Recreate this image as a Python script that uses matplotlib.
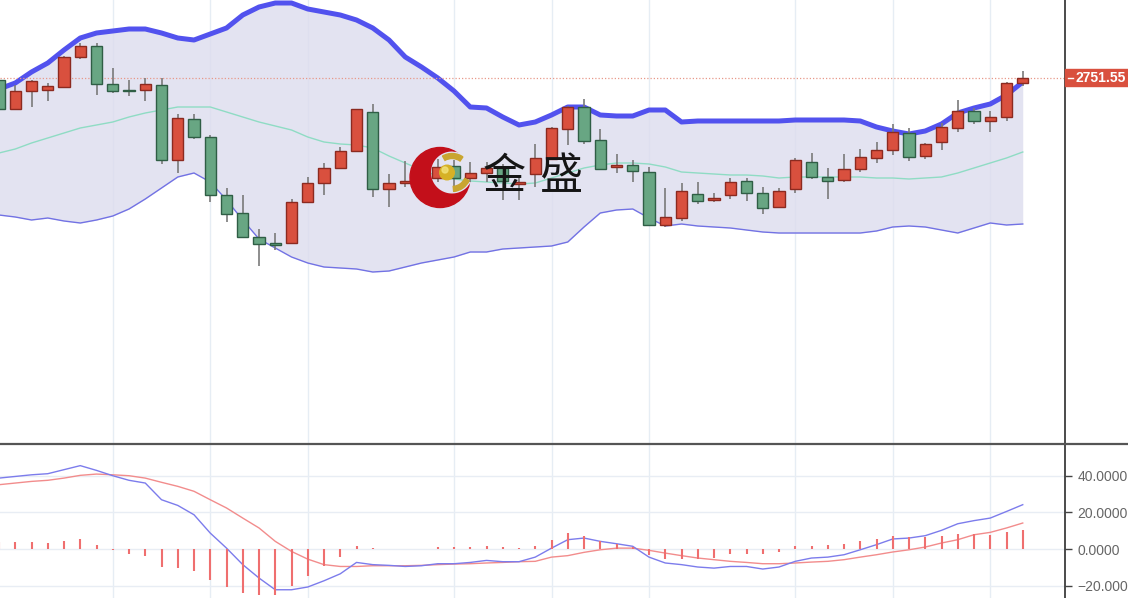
import numpy as np
import matplotlib
matplotlib.use('Agg')
from matplotlib import pyplot as plt
from matplotlib import transforms
from matplotlib.lines import Line2D
from matplotlib.path import Path
from matplotlib.patches import Circle, Rectangle, Wedge

W, H = 1128, 598

# price bars
opens = [2750.3, 2735.8, 2744.8, 2745.3, 2746.8, 2761.8, 2767.3, 2748.3, 2745.3, 2745.3,
         2747.8, 2710.3, 2730.8, 2721.8, 2692.8, 2683.8, 2671.8, 2668.8, 2668.8, 2689.3,
         2698.8, 2706.3, 2714.8, 2734.3, 2695.8, 2698.8, 2699.3, 2701.3, 2707.3, 2701.3,
         2703.8, 2706.3, 2698.3, 2703.3, 2710.8, 2725.8, 2736.8, 2720.3, 2706.8, 2707.8,
         2704.3, 2677.8, 2681.3, 2693.3, 2690.3, 2692.8, 2699.8, 2693.8, 2686.8, 2695.8,
         2709.3, 2701.8, 2700.3, 2705.8, 2711.3, 2715.3, 2723.8, 2712.3, 2719.3, 2726.3,
         2734.8, 2729.8, 2731.8, 2748.8]
highs = [2751.3, 2747.8, 2750.3, 2748.8, 2762.3, 2768.8, 2768.8, 2756.3, 2750.3, 2751.3,
         2751.3, 2733.3, 2733.3, 2722.8, 2696.3, 2692.8, 2675.8, 2673.8, 2690.8, 2701.8,
         2708.8, 2716.8, 2735.8, 2738.3, 2703.3, 2709.8, 2705.3, 2710.8, 2710.3, 2709.3,
         2709.3, 2708.3, 2701.3, 2718.3, 2726.8, 2737.3, 2740.8, 2725.8, 2713.3, 2710.3,
         2706.8, 2696.3, 2698.8, 2699.3, 2693.8, 2701.3, 2701.3, 2696.8, 2696.3, 2711.3,
         2713.8, 2706.3, 2713.3, 2715.8, 2719.3, 2728.3, 2726.3, 2718.8, 2728.8, 2740.3,
         2736.3, 2734.8, 2749.3, 2754.8]
lows = [2735.3, 2735.3, 2736.8, 2739.8, 2746.3, 2760.8, 2742.8, 2743.8, 2742.3, 2739.8,
        2708.3, 2703.8, 2720.8, 2689.3, 2679.3, 2671.3, 2657.3, 2665.3, 2668.3, 2688.8,
        2692.8, 2705.8, 2714.3, 2691.8, 2686.8, 2696.8, 2697.3, 2699.3, 2694.3, 2699.3,
        2699.3, 2690.3, 2690.3, 2696.8, 2710.3, 2717.8, 2718.3, 2705.3, 2703.8, 2699.3,
        2677.3, 2676.8, 2679.8, 2688.3, 2689.3, 2690.8, 2689.8, 2683.3, 2686.3, 2693.8,
        2700.8, 2690.8, 2699.3, 2704.3, 2708.8, 2712.8, 2709.8, 2710.8, 2715.3, 2724.3,
        2728.3, 2724.3, 2729.8, 2747.3]
closes = [2735.8, 2744.8, 2749.8, 2747.3, 2761.8, 2767.3, 2748.3, 2744.8, 2744.8, 2748.3,
          2710.3, 2731.3, 2721.8, 2692.8, 2683.3, 2671.8, 2668.3, 2667.8, 2689.3, 2698.8,
          2706.3, 2714.8, 2735.8, 2695.8, 2698.8, 2699.8, 2702.8, 2706.8, 2701.3, 2703.8,
          2706.3, 2699.8, 2699.3, 2711.3, 2726.3, 2736.8, 2719.8, 2705.8, 2707.8, 2704.8,
          2677.8, 2681.8, 2694.8, 2689.8, 2691.3, 2699.3, 2693.8, 2686.3, 2694.8, 2710.3,
          2701.8, 2699.8, 2705.8, 2711.8, 2715.3, 2724.3, 2711.8, 2718.3, 2726.8, 2734.8,
          2729.8, 2731.8, 2748.8, 2751.55]

# bollinger bands
bb_upper = [2745.8, 2748.8, 2754.3, 2758.8, 2765.3, 2771.3, 2773.8, 2774.8, 2775.8, 2775.8,
            2773.8, 2771.3, 2770.3, 2773.3, 2776.3, 2782.8, 2786.8, 2788.8, 2788.8, 2785.8,
            2784.3, 2782.8, 2780.3, 2776.3, 2770.3, 2761.8, 2756.8, 2751.3, 2744.8, 2736.8,
            2736.3, 2731.8, 2727.8, 2729.3, 2732.8, 2736.8, 2736.8, 2732.8, 2732.3, 2732.3,
            2735.3, 2735.3, 2729.3, 2729.8, 2729.8, 2729.8, 2729.8, 2729.8, 2729.8, 2730.3,
            2730.3, 2730.3, 2730.3, 2729.8, 2726.8, 2724.8, 2723.3, 2724.8, 2728.3, 2733.8,
            2736.3, 2738.3, 2742.8, 2749.3]
bb_mid = [2713.8, 2715.8, 2718.8, 2721.3, 2723.8, 2726.3, 2727.8, 2729.3, 2731.8, 2733.8,
          2735.3, 2736.8, 2736.8, 2736.8, 2734.3, 2731.8, 2729.3, 2727.3, 2725.3, 2721.8,
          2719.3, 2718.3, 2717.8, 2716.3, 2712.3, 2708.8, 2705.3, 2702.3, 2700.8, 2699.8,
          2699.3, 2698.8, 2698.3, 2698.8, 2701.3, 2703.8, 2706.3, 2707.8, 2708.8, 2708.8,
          2708.3, 2706.8, 2704.3, 2703.8, 2703.3, 2702.8, 2702.8, 2702.3, 2701.3, 2701.8,
          2701.8, 2701.8, 2701.8, 2701.8, 2701.3, 2701.3, 2700.8, 2701.3, 2701.8, 2703.8,
          2706.3, 2708.8, 2711.3, 2714.3]
bb_lower = [2682.8, 2681.8, 2680.3, 2681.3, 2679.8, 2678.8, 2680.3, 2682.3, 2685.8, 2690.8,
            2696.3, 2701.8, 2703.8, 2699.3, 2690.3, 2680.3, 2670.8, 2666.3, 2661.8, 2658.8,
            2656.8, 2656.3, 2655.8, 2654.3, 2654.8, 2656.8, 2658.8, 2660.3, 2661.8, 2664.3,
            2664.3, 2665.8, 2666.3, 2666.8, 2667.3, 2669.3, 2676.8, 2683.8, 2685.3, 2685.8,
            2681.3, 2677.3, 2678.3, 2677.3, 2676.8, 2676.3, 2675.3, 2674.3, 2673.8, 2673.8,
            2673.8, 2673.8, 2673.8, 2673.8, 2674.8, 2676.8, 2677.3, 2676.8, 2675.3, 2673.8,
            2676.3, 2678.8, 2677.8, 2678.3]

# MACD
macd = [38.7, 39.6, 40.5, 41.1, 43.3, 45.5, 42.9, 40.0, 37.5, 36.0,
        26.9, 23.8, 18.7, 8.7, 0.5, -8.5, -15.8, -22.2, -22.2, -20.7,
        -17.3, -13.5, -7.3, -8.5, -8.9, -9.5, -9.1, -8.0, -8.0, -7.3,
        -6.2, -6.9, -6.9, -4.4, 0.5, 5.1, 6.0, 4.2, 2.9, 1.5,
        -4.4, -7.6, -8.5, -9.8, -10.4, -9.5, -9.5, -10.9, -9.8, -6.7,
        -4.9, -4.4, -3.1, -0.4, 2.4, 5.5, 6.0, 7.3, 10.2, 13.8,
        15.5, 16.9, 20.5, 24.2]
signal = [35.1, 36.0, 36.9, 37.5, 38.7, 40.2, 40.9, 40.5, 40.0, 38.7,
          36.4, 34.2, 31.5, 26.9, 22.4, 16.9, 11.5, 4.2, -1.3, -5.5,
          -8.5, -9.5, -9.5, -9.1, -9.1, -9.1, -8.9, -8.5, -8.2, -8.0,
          -7.6, -7.3, -6.9, -6.7, -4.4, -3.6, -1.8, -0.4, 0.5, 0.5,
          -0.7, -2.2, -3.6, -4.9, -5.8, -6.7, -7.3, -8.0, -8.0, -7.6,
          -7.1, -6.7, -5.8, -4.4, -3.1, -1.6, -0.4, 1.1, 3.3, 5.1,
          7.8, 9.1, 11.5, 14.2]
hist = [3.8, 3.8, 3.8, 3.3, 4.5, 5.5, 2.4, -0.3, -2.5, -3.6,
        -9.8, -10.2, -12.2, -17.1, -20.7, -23.8, -24.9, -24.9, -20.4, -14.9,
        -9.5, -4.5, 1.8, 0.4, 0.1, -0.2, -0.1, 0.9, 0.9, 1.3,
        1.8, 0.9, 0.4, 1.8, 5.1, 8.7, 7.3, 4.5, 2.9, 1.1,
        -3.1, -5.5, -5.5, -5.5, -4.9, -2.5, -2.5, -2.7, -1.8, 1.5,
        1.8, 2.4, 2.9, 4.5, 5.5, 6.9, 6.4, 6.4, 6.9, 8.4,
        8.2, 7.8, 9.1, 10.2]

# bars where a new week starts
week_starts = [7, 13, 19, 28, 34, 40, 49, 55, 61]
macd_ticks = [40, 20, 0, -20]
macd_labels = ['40.0000', '20.0000', '0.0000', '\u221220.000']
last_label = '2751.55'

UP, UP_EDGE = '#d9503e', '#8c2a20'
DOWN, DOWN_EDGE = '#68a683', '#2f5e45'
GRID = '#e6edf4'
XLIM = (0.06, 65.6)


def style_axes(ax):
  for side in ('top', 'left', 'bottom'):
    ax.spines[side].set_visible(False)
  ax.spines['right'].set_color('#3d3d3d')
  ax.spines['right'].set_linewidth(1.3)
  ax.set_xticks([])
  ax.set_xlim(*XLIM)
  for w in week_starts:
    ax.axvline(w, color=GRID, lw=1, zorder=0)


def draw_price(ax):
  x = np.arange(len(closes))
  o = np.array(opens)
  c = np.array(closes)
  up = c >= o
  lo = np.minimum(o, c)
  hi = np.abs(c - o)

  ax.fill_between(x, bb_lower, bb_upper, color='#dcdcee', alpha=0.8, lw=0, zorder=1)
  ax.plot(x, bb_upper, color='#5252ee', lw=3.6, solid_capstyle='round', zorder=2)
  ax.plot(x, bb_mid, color='#8fdcc4', lw=1, zorder=2)
  ax.plot(x, bb_lower, color='#7272e4', lw=1, zorder=2)

  ax.vlines(x, lows, highs, color='#7a7a7a', lw=1.2, zorder=3)
  ax.bar(x[up], hi[up], width=0.68, bottom=lo[up], color=UP,
         edgecolor=UP_EDGE, lw=1, zorder=4)
  ax.bar(x[~up], hi[~up], width=0.68, bottom=lo[~up], color=DOWN,
         edgecolor=DOWN_EDGE, lw=1, zorder=4)

  last = closes[-1]
  ax.axhline(last, color='#e8998a', lw=0.9, ls=(0, (1, 1.6)), zorder=2.5)
  ax.set_ylim(2568.8, 2790.3)
  ax.set_yticks([])

  # last price tag on the right axis
  tr = transforms.blended_transform_factory(ax.transAxes, ax.transData)
  ax.add_patch(Rectangle((1.0, last - 4.3), 0.07, 8.6, transform=tr,
                         color='#d9503e', clip_on=False, zorder=6))
  ax.plot([1.0 + 3 / 1065, 1.0 + 8 / 1065], [last, last], transform=tr,
          color='white', lw=1, clip_on=False, zorder=7)
  ax.text(1.0 + 11 / 1065, last, last_label, transform=tr, color='white',
          fontsize=10, fontweight='bold', va='center', ha='left', zorder=7)


def draw_macd(ax):
  x = np.arange(len(macd))
  for t in macd_ticks:
    ax.axhline(t, color='#e8edf4', lw=1, zorder=0)
  ax.plot(x, signal, color='#f28c8c', lw=1, zorder=2)
  ax.plot(x, macd, color='#7c7cec', lw=1, zorder=2)
  ax.vlines(x, 0, hist, color='#ef6f6f', lw=1.5, zorder=3)
  ax.set_ylim(-26.7, 57.3)
  ax.yaxis.tick_right()
  ax.set_yticks(macd_ticks, macd_labels)
  ax.tick_params(axis='y', length=5, width=1, color='#444', labelcolor='#666',
                 labelsize=10, pad=4)


def draw_logo(fig):
  lax = fig.add_axes([408 / W, 1 - 210 / H, 64 / W, 65 / H])
  lax.set_xlim(-32, 32)
  lax.set_ylim(-32.5, 32.5)
  lax.axis('off')

  # red crescent: a disc with a hole cut by a clip path
  ring = Circle((0, 0), 30, color='#c30f1a')
  lax.add_patch(ring)
  t = np.linspace(0, 2 * np.pi, 120)
  hole = np.column_stack([12 + 21 * np.cos(-t), 5 + 21 * np.sin(-t)])
  box = np.array([[-40, -40], [40, -40], [40, 40], [-40, 40], [-40, -40]])
  codes = [Path.MOVETO] + [Path.LINETO] * 4 + [Path.MOVETO] + [Path.LINETO] * (len(hole) - 1)
  ring.set_clip_path(Path(np.vstack([box, hole]), codes), lax.transData)

  lax.add_patch(Wedge((12, 5), 19, 55, 120, width=5, color='#c9a530'))
  lax.add_patch(Wedge((12, 5), 19, -85, -25, width=5, color='#c9a530'))
  lax.add_patch(Circle((7, 5), 7.3, color='#d6b126'))
  lax.add_patch(Circle((5, 7.5), 3, color='#f2e27a', alpha=0.8))

  for ch, cx in (('金', 504), ('盛', 561)):
    fig.text(cx / W, 1 - 177 / H, ch, fontsize=31, color='#151515',
             family=['Noto Sans CJK SC', 'DejaVu Sans'], ha='center', va='center')


def main():
  plt.rcParams['font.family'] = ['Liberation Sans', 'DejaVu Sans']
  fig = plt.figure(figsize=(W / 100, H / 100), dpi=100)
  fig.patch.set_facecolor('white')

  ax = fig.add_axes([0, 155 / H, 1065 / W, 443 / H])
  style_axes(ax)
  draw_price(ax)

  ax2 = fig.add_axes([0, 0, 1065 / W, 154 / H])
  style_axes(ax2)
  draw_macd(ax2)

  fig.add_artist(Line2D([0, 1], [1 - 443.5 / H] * 2, transform=fig.transFigure,
                        color='#555555', lw=1.6))
  draw_logo(fig)

  fig.savefig('out.png', dpi=100)


if __name__ == '__main__':
  main()
